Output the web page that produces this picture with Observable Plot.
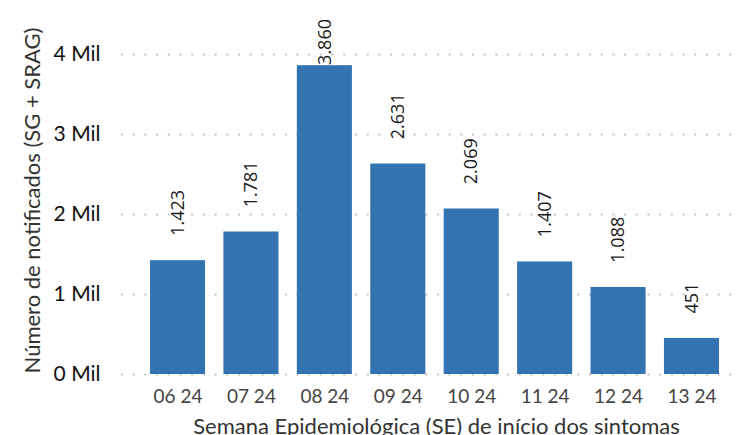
<!DOCTYPE html>
<html>
<head>
<meta charset="utf-8">
<script src="https://cdn.jsdelivr.net/npm/d3@7"></script>
<script src="https://cdn.jsdelivr.net/npm/@observablehq/plot@0.6"></script>
<style>
  html, body { margin: 0; padding: 0; background: #fff; }
</style>
</head>
<body>
<div id="chart"></div>
<script>
const weeks = ["06 24", "07 24", "08 24", "09 24", "10 24", "11 24", "12 24", "13 24"];
const values = [1423, 1781, 3860, 2631, 2069, 1407, 1088, 451];
const yTicks = [0, 1000, 2000, 3000, 4000];
const yTickLabels = ["0 Mil", "1 Mil", "2 Mil", "3 Mil", "4 Mil"];
const yTitle = "Número de notificados (SG + SRAG)";
const xTitle = "Semana Epidemiológica (SE) de início dos sintomas";

const data = weeks.map((w, i) => ({week: w, value: values[i]}));
const ptBR = d3.formatLocale({decimal: ",", thousands: ".", grouping: [3], currency: ["R$", ""]});
const fmt = ptBR.format(",d");

const chart = Plot.plot({
  width: 743,
  height: 435,
  marginLeft: 121,
  marginRight: 8,
  marginTop: 54,
  marginBottom: 61,
  style: {fontFamily: "Lato", background: "#fff"},
  x: {domain: weeks, range: [140.8, 728.2], paddingInner: 0.25, paddingOuter: 0.125, round: false},
  y: {domain: [0, 4000], range: [374, 54]},
  marks: [
    Plot.ruleY(yTicks, {stroke: "#c4c4c4", strokeWidth: 2, strokeDasharray: "2,9.7"}),
    Plot.barY(data, {x: "week", y: "value", fill: "#3373b1"}),
    Plot.text(data, {
      x: "week",
      y: d => Math.min(d.value + 310, 3870),
      text: d => fmt(d.value),
      rotate: -90,
      textAnchor: "start",
      fontSize: 18,
      fontFamily: "Open Sans",
      fill: "#1a1a1a"
    }),
    Plot.axisX({tickSize: 0, tickPadding: 15, fontSize: 19, color: "#444", label: null}),
    Plot.axisY({ticks: yTicks, tickFormat: (d) => yTickLabels[yTicks.indexOf(d)], tickSize: 0, tickPadding: 21, fontSize: 21, color: "#111", label: null}),
    Plot.text([yTitle], {frameAnchor: "left", textAnchor: "middle", lineAnchor: "middle", rotate: -90, dx: -89, dy: -14, fontSize: 22, fill: "#333"}),
    Plot.text([xTitle], {frameAnchor: "bottom", textAnchor: "middle", lineAnchor: "middle", dx: 8, dy: 52, fontSize: 22, fill: "#333"})
  ]
});
document.getElementById("chart").appendChild(chart);
</script>
</body>
</html>
